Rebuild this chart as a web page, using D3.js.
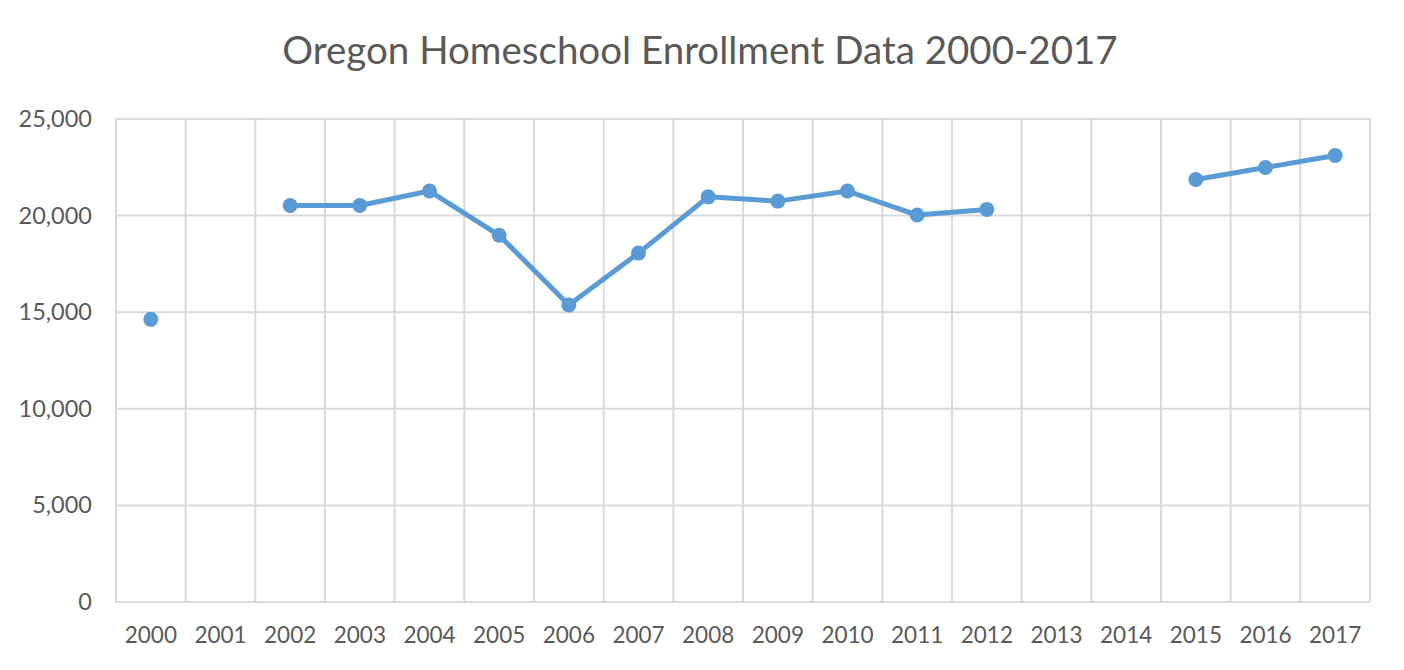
<!DOCTYPE html>
<html>
<head>
<meta charset="utf-8">
<script src="https://cdn.jsdelivr.net/npm/d3@7"></script>
<style>
  body { margin: 0; background: #fff; }
  text { font-family: Lato, "Open Sans", sans-serif; fill: #595959; }
</style>
</head>
<body>
<div class="container"></div>
<script>
let width = 1404
let height = 670

// chart data
let title = "Oregon Homeschool Enrollment Data 2000-2017"
let years = ["2000", "2001", "2002", "2003", "2004", "2005", "2006", "2007", "2008",
             "2009", "2010", "2011", "2012", "2013", "2014", "2015", "2016", "2017"]
let enrollment = [14630, null, 20520, 20520, 21270, 18980, 15370, 18060, 20970,
                  20750, 21270, 20030, 20320, null, null, 21870, 22490, 23110]
let yTicks = [0, 5000, 10000, 15000, 20000, 25000]

let margin = { top: 119, right: 34, bottom: 68, left: 116 }

let svg = d3.select(".container")
  .append("svg")
  .attr("width", width)
  .attr("height", height)

let x = d3.scaleBand()
  .domain(years)
  .range([margin.left, width - margin.right])

let y = d3.scaleLinear()
  .domain([0, 25000])
  .range([height - margin.bottom, margin.top])

let data = years.map(function (yr, i) { return { year: yr, value: enrollment[i] } })

// horizontal gridlines
svg.append("g")
  .attr("class", "hgrid")
  .selectAll("line")
  .data(yTicks)
  .enter()
  .append("line")
  .attr("x1", margin.left)
  .attr("x2", width - margin.right)
  .attr("y1", function (d) { return y(d) })
  .attr("y2", function (d) { return y(d) })
  .attr("stroke", "#d9d9d9")
  .attr("stroke-width", 2)

// vertical gridlines at category boundaries
let bounds = years.map(function (d) { return x(d) }).concat([x.range()[1]])
svg.append("g")
  .attr("class", "vgrid")
  .selectAll("line")
  .data(bounds)
  .enter()
  .append("line")
  .attr("x1", function (d) { return d })
  .attr("x2", function (d) { return d })
  .attr("y1", y(25000))
  .attr("y2", y(0))
  .attr("stroke", "#d9d9d9")
  .attr("stroke-width", 2)

// y axis
let yAxis = svg.append("g")
  .attr("transform", "translate(" + margin.left + ",0)")
  .call(d3.axisLeft(y).tickValues(yTicks).tickFormat(d3.format(",")).tickSize(0).tickPadding(24))
yAxis.select(".domain").remove()
yAxis.selectAll("text")
  .attr("font-size", "23.5px")
  .attr("font-family", null)
  .attr("fill", "#595959")

// x axis
let xAxis = svg.append("g")
  .attr("transform", "translate(0," + y(0) + ")")
  .call(d3.axisBottom(x).tickSize(0).tickPadding(25))
xAxis.select(".domain").remove()
xAxis.selectAll("text")
  .attr("font-size", "22.5px")
  .attr("font-family", null)
  .attr("fill", "#595959")

// line with gaps for missing years
let line = d3.line()
  .defined(function (d) { return d.value !== null })
  .x(function (d) { return x(d.year) + x.bandwidth() / 2 })
  .y(function (d) { return y(d.value) })

svg.append("path")
  .datum(data)
  .attr("d", line)
  .attr("fill", "none")
  .attr("stroke", "#5b9bd5")
  .attr("stroke-width", 5)
  .attr("stroke-linejoin", "round")

svg.selectAll(".dot")
  .data(data.filter(function (d) { return d.value !== null }))
  .enter()
  .append("circle")
  .attr("class", "dot")
  .attr("cx", function (d) { return x(d.year) + x.bandwidth() / 2 })
  .attr("cy", function (d) { return y(d.value) })
  .attr("r", 7.5)
  .attr("fill", "#5b9bd5")

// title
svg.append("text")
  .attr("x", 700)
  .attr("y", 64)
  .attr("text-anchor", "middle")
  .attr("font-size", "38.5px")
  .text(title)
</script>
</body>
</html>
